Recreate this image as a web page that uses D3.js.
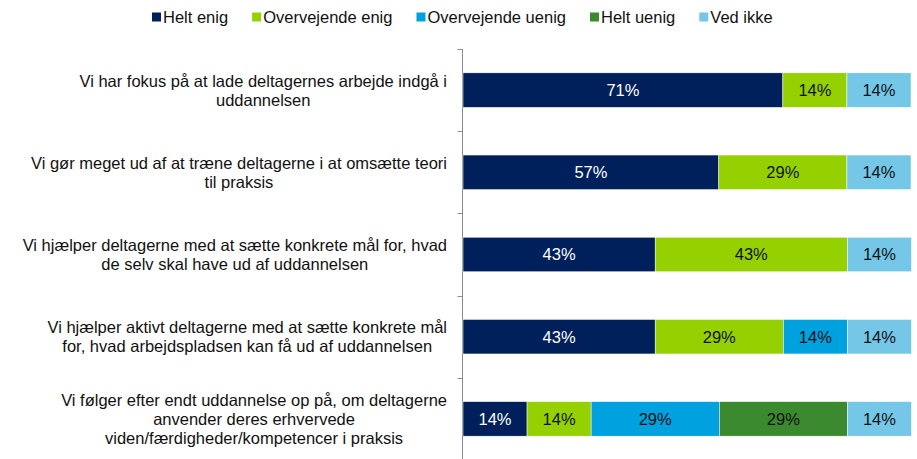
<!DOCTYPE html>
<html>
<head>
<meta charset="utf-8">
<script src="https://cdn.jsdelivr.net/npm/d3@7"></script>
<style>
  body { margin: 0; background: #fff; }
  svg { display: block; font-family: "Liberation Sans", Arial, sans-serif; }
</style>
</head>
<body>
<div id="chart"></div>
<script>
// statements, each split into the lines used in the original figure
const categories = [
  ["Vi har fokus på at lade deltagernes arbejde indgå i", "uddannelsen"],
  ["Vi gør meget ud af at træne deltagerne i at omsætte teori", "til praksis"],
  ["Vi hjælper deltagerne med at sætte konkrete mål for, hvad", "de selv skal have ud af uddannelsen"],
  ["Vi hjælper aktivt deltagerne med at sætte konkrete mål", "for, hvad arbejdspladsen kan få ud af uddannelsen"],
  ["Vi følger efter endt uddannelse op på, om deltagerne", "anvender deres erhvervede", "viden/færdigheder/kompetencer i praksis"]
];
const seriesNames = ["Helt enig", "Overvejende enig", "Overvejende uenig", "Helt uenig", "Ved ikke"];
const heltEnig        = [71.4, 57.1, 42.9, 42.9, 14.3];
const overvejendeEnig = [14.3, 28.6, 42.9, 28.6, 14.3];
const overvejendeUenig = [0, 0, 0, 14.3, 28.6];
const heltUenig       = [0, 0, 0, 0, 28.6];
const vedIkke         = [14.3, 14.3, 14.3, 14.3, 14.3];
const seriesColours = ["#00205b", "#95d000", "#00a1df", "#3b8a2f", "#74c7e7"];
const labelColours = ["#ffffff", "#111111", "#111111", "#111111", "#111111"];

const W = 917, H = 459;
const fontSize = 16.5;

const svg = d3.select("#chart").append("svg")
  .attr("width", W).attr("height", H);

const x = d3.scaleLinear().domain([0, 100]).range([463, 911]);
const y = d3.scaleBand()
  .domain(d3.range(categories.length))
  .range([49, 460])
  .paddingInner(0.58)
  .paddingOuter(0.29);

const allSeries = [heltEnig, overvejendeEnig, overvejendeUenig, heltUenig, vedIkke];
const rows = categories.map((c, i) => {
  let acc = 0;
  return allSeries.map((s, k) => {
    const seg = { row: i, k, x0: acc, x1: acc + s[i], v: s[i] };
    acc += s[i];
    return seg;
  }).filter((d) => d.v > 0);
});

// axis line with ticks between categories
const axisX = 462.5;
svg.append("line")
  .attr("x1", axisX).attr("x2", axisX)
  .attr("y1", 49).attr("y2", H)
  .attr("stroke", "#8c8c8c").attr("stroke-width", 1);
const step = y.step();
const tickYs = d3.range(categories.length + 1).map((i) => y(0) - y.paddingOuter() * step + i * step - (y.paddingInner() * step) / 2 + (y.paddingInner() * step) / 2);
svg.selectAll(".tick")
  .data(d3.range(categories.length + 1))
  .enter().append("line")
  .attr("x1", axisX - 5).attr("x2", axisX)
  .attr("y1", (i) => Math.round(49 + i * (411 / categories.length)) + 0.5)
  .attr("y2", (i) => Math.round(49 + i * (411 / categories.length)) + 0.5)
  .attr("stroke", "#8c8c8c");

// bars
const segs = svg.selectAll(".seg")
  .data(rows.flat())
  .enter().append("g");

segs.append("rect")
  .attr("x", (d) => x(d.x0))
  .attr("y", (d) => y(d.row))
  .attr("width", (d) => x(d.x1) - x(d.x0))
  .attr("height", y.bandwidth())
  .attr("fill", (d) => seriesColours[d.k])
  .attr("stroke", "#ffffff")
  .attr("stroke-width", 0.5);

segs.append("text")
  .attr("x", (d) => (x(d.x0) + x(d.x1)) / 2)
  .attr("y", (d) => y(d.row) + y.bandwidth() / 2)
  .attr("dy", "0.36em")
  .attr("text-anchor", "middle")
  .attr("font-size", fontSize)
  .attr("fill", (d) => labelColours[d.k])
  .text((d) => Math.round(d.v) + "%");

// category labels: lines centred in a block right-aligned to the axis
const lineH = 19;
categories.forEach((lines, i) => {
  const g = svg.append("g");
  const cy = y(i) + y.bandwidth() / 2;
  const texts = lines.map((t, j) => g.append("text")
    .attr("y", cy + (j - (lines.length - 1) / 2) * lineH)
    .attr("dy", "0.36em")
    .attr("text-anchor", "middle")
    .attr("font-size", fontSize)
    .attr("fill", "#111")
    .text(t));
  const blockW = d3.max(texts, (t) => t.node().getComputedTextLength());
  const cx = 447 - blockW / 2;
  texts.forEach((t) => t.attr("x", cx));
});

// legend
const legend = svg.append("g").attr("transform", "translate(152, 17)");
let lx = 0;
seriesNames.forEach((name, k) => {
  legend.append("rect")
    .attr("x", lx).attr("y", -4.5)
    .attr("width", 9).attr("height", 9)
    .attr("fill", seriesColours[k]);
  const t = legend.append("text")
    .attr("x", lx + 11)
    .attr("dy", "0.36em")
    .attr("font-size", fontSize)
    .attr("fill", "#111")
    .text(name);
  lx += 11 + t.node().getComputedTextLength() + 24;
});
</script>
</body>
</html>
